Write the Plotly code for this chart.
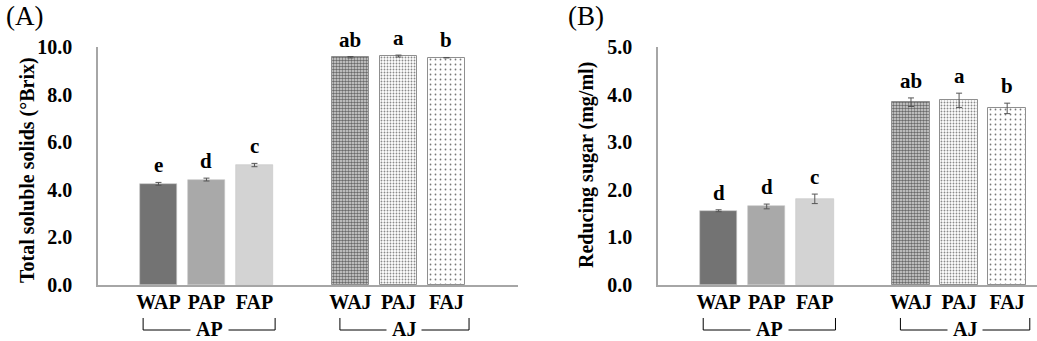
import plotly.graph_objects as go

categories = ["WAP", "PAP", "FAP", " ", "WAJ", "PAJ", "FAJ"]
groups = ["AP", "AJ"]

# Panel A: Total soluble solids (°Brix)
tss_values = [4.25, 4.43, 5.04, None, 9.57, 9.62, 9.55]
tss_errors = [0.06, 0.06, 0.07, None, 0.03, 0.04, 0.01]
tss_letters = ["e", "d", "c", "", "ab", "a", "b"]
tss_ticks = [0, 2, 4, 6, 8, 10]

# Panel B: Reducing sugar (mg/ml)
rs_values = [1.56, 1.65, 1.81, None, 3.84, 3.88, 3.71]
rs_errors = [0.02, 0.05, 0.10, None, 0.09, 0.15, 0.11]
rs_letters = ["d", "d", "c", "", "ab", "a", "b"]
rs_ticks = [0, 1, 2, 3, 4, 5]

FONT = "Liberation Serif"
H = 341
solid_colors = ["#737373", "#a9a9a9", "#d3d3d3"]
patterns = [
    dict(shape=".", size=3, solidity=0.55, fgcolor="#6a6a6a", bgcolor="#dcdcdc", fillmode="replace"),
    dict(shape=".", size=3, solidity=0.3, fgcolor="#8a8a8a", bgcolor="white", fillmode="replace"),
    dict(shape=".", size=5, solidity=0.1, fgcolor="#777777", bgcolor="white", fillmode="replace"),
]

fig = go.Figure()

panels = [
    dict(xa="x", ya="y", vals=tss_values, errs=tss_errors, letters=tss_letters,
         ticks=tss_ticks, yr=[0, 10], dom=[98 / 1037, 518 / 1037], xr=[-1.26, 7.49],
         title="Total soluble solids (°Brix)", tx=27 / 1037, ty=170, lab="(A)", lx=4 / 1037),
    dict(xa="x2", ya="y2", vals=rs_values, errs=rs_errors, letters=rs_letters,
         ticks=rs_ticks, yr=[0, 5], dom=[658 / 1037, 1.0], xr=[-1.26, 6.62],
         title="Reducing sugar (mg/ml)", tx=586 / 1037, ty=165, lab="(B)", lx=566 / 1037),
]

annotations = []
shapes = []
for p in panels:
    for i, cat in enumerate(categories):
        if p["vals"][i] is None:
            continue
        if i < 3:
            marker = dict(color=solid_colors[i], line=dict(color="#c4c4c4", width=0.6))
        else:
            marker = dict(color="white", pattern=patterns[i - 4], line=dict(color="#8f8f8f", width=1))
        fig.add_trace(go.Bar(
            x=[cat], y=[p["vals"][i]], width=0.78, marker=marker,
            error_y=dict(type="data", array=[p["errs"][i]], color="#555555", thickness=1, width=3),
            xaxis=p["xa"], yaxis=p["ya"], showlegend=False,
        ))
        annotations.append(dict(
            x=cat, y=p["vals"][i] + p["errs"][i], xref=p["xa"], yref=p["ya"],
            text="<b>%s</b>" % p["letters"][i], showarrow=False, yanchor="bottom", yshift=3,
            font=dict(family=FONT, size=21, color="black"),
        ))
    # group brackets
    for g, (start, end) in zip(groups, [(-0.32, 2.43), (3.78, 6.47)]):
        yb = (H - 330) / H
        yt = (H - 318) / H
        shapes.append(dict(type="path", xref=p["xa"], yref="paper",
                           path="M %f,%f L %f,%f L %f,%f L %f,%f" % (start, yt, start, yb, end, yb, end, yt),
                           line=dict(color="black", width=1)))
        mid = (start + end) / 2
        annotations.append(dict(x=mid, y=yb, xref=p["xa"], yref="paper",
                                text="&nbsp;<b>%s</b>&nbsp;" % g,
                                showarrow=False, yanchor="middle", bgcolor="white", borderpad=0,
                                font=dict(family=FONT, size=20, color="black"), yshift=1))
    annotations.append(dict(x=p["tx"], y=(H - p["ty"]) / H, xref="paper", yref="paper",
                            xanchor="center", yanchor="middle",
                            text="<b>%s</b>" % p["title"], textangle=-90, showarrow=False,
                            font=dict(family=FONT, size=20, color="black")))
    annotations.append(dict(x=p["lx"], y=1.0, xref="paper", yref="paper", text=p["lab"],
                            showarrow=False, xanchor="left", yanchor="top", yshift=1,
                            font=dict(family=FONT, size=27, color="black")))

ax_common = dict(showgrid=False, zeroline=False, showline=True, linecolor="#a6a6a6",
                 linewidth=1.5, automargin=False)
fig.update_layout(
    width=1037, height=H, margin=dict(l=0, r=0, t=0, b=0, autoexpand=False),
    plot_bgcolor="white", paper_bgcolor="white", bargap=0,
    annotations=annotations, shapes=shapes,
)
ydom = [(H - 285) / H, (H - 47) / H]
for p, xk, yk in [(panels[0], "xaxis", "yaxis"), (panels[1], "xaxis2", "yaxis2")]:
    fig.layout[xk] = dict(ax_common, domain=p["dom"], range=p["xr"], type="category",
                          categoryarray=categories, categoryorder="array", anchor=p["ya"],
                          tickvals=categories, ticktext=["<b>%s</b>" % c for c in categories],
                          ticks="", ticklabelstandoff=-2,
                          tickfont=dict(family=FONT, size=20, color="black"))
    fig.layout[yk] = dict(ax_common, domain=ydom, range=p["yr"], anchor=p["xa"],
                          tickvals=p["ticks"], ticktext=["<b>%.1f</b>" % t for t in p["ticks"]],
                          ticks="", ticklabelstandoff=20,
                          tickfont=dict(family=FONT, size=20, color="black"))

fig.write_html("out.html")
